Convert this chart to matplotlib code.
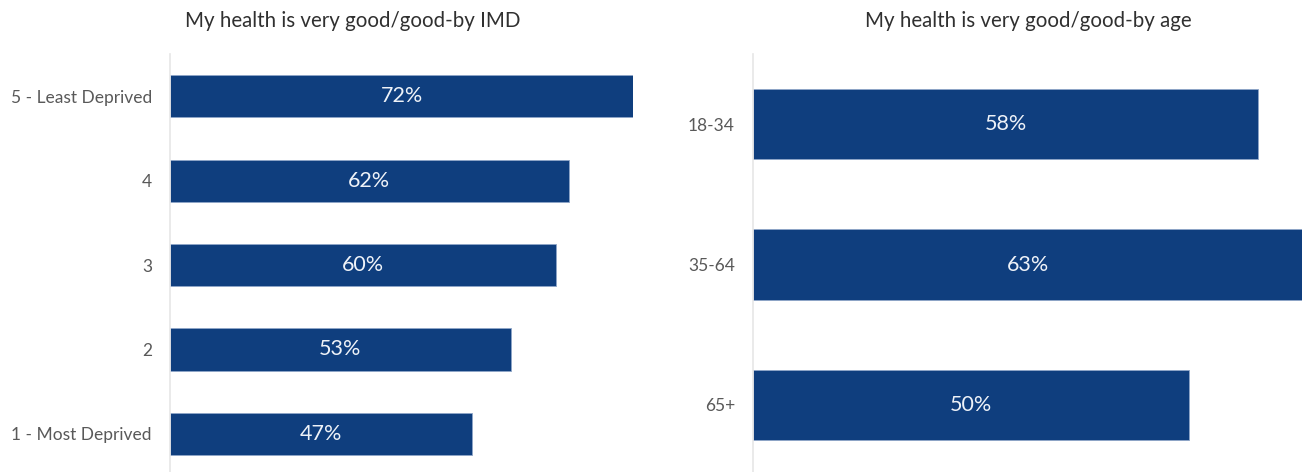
import matplotlib
matplotlib.use("Agg")
import matplotlib.pyplot as plt

# survey results: share reporting very good/good health
imd_groups = ["5 - Least Deprived", "4", "3", "2", "1 - Most Deprived"]
imd_values = [72, 62, 60, 53, 47]

age_groups = ["18-34", "35-64", "65+"]
age_values = [58, 63, 50]

BAR_COLOR = "#0f3e7e"
TEXT_GREY = "#595959"

plt.rcParams["font.family"] = ["Lato", "DejaVu Sans"]

W, H = 1304, 472
fig = plt.figure(figsize=(W / 100, H / 100), dpi=100)


def px_axes(x0, x1, y0, y1):
    """Axes placed by pixel box (top-left origin)."""
    return fig.add_axes([x0 / W, 1 - y1 / H, (x1 - x0) / W, (y1 - y0) / H])


def draw_bars(ax, labels, values, xmax):
    pos = list(range(len(labels)))
    ax.barh(pos, values, height=0.5, color=BAR_COLOR,
            edgecolor="#8fa6c8", linewidth=0.6)
    for p, v in zip(pos, values):
        ax.text(v / 2, p, f"{v}%", ha="center", va="center",
                color="#eef2f8", fontsize=15.5)
    ax.set_yticks(pos)
    ax.set_yticklabels(labels, color=TEXT_GREY, fontsize=12.5)
    ax.tick_params(axis="y", length=0, pad=13)
    ax.set_xticks([])
    ax.set_xlim(0, xmax)
    ax.set_ylim(len(labels) - 0.5, -0.5)
    for s in ["top", "right", "bottom"]:
        ax.spines[s].set_visible(False)
    ax.spines["left"].set_color("#e6e6e6")
    ax.spines["left"].set_linewidth(1.2)


ax1 = px_axes(170, 633, 54, 476)
draw_bars(ax1, imd_groups, imd_values, max(imd_values))

ax2 = px_axes(753, 1302, 54, 475)
draw_bars(ax2, age_groups, age_values, max(age_values))

fig.text(353 / W, 1 - 21 / H, "My health is very good/good-by IMD",
         ha="center", va="center", fontsize=14.8, color="#303030")
fig.text(1028 / W, 1 - 21 / H, "My health is very good/good-by age",
         ha="center", va="center", fontsize=14.8, color="#303030")

fig.savefig("out.png", dpi=100, facecolor="white")
